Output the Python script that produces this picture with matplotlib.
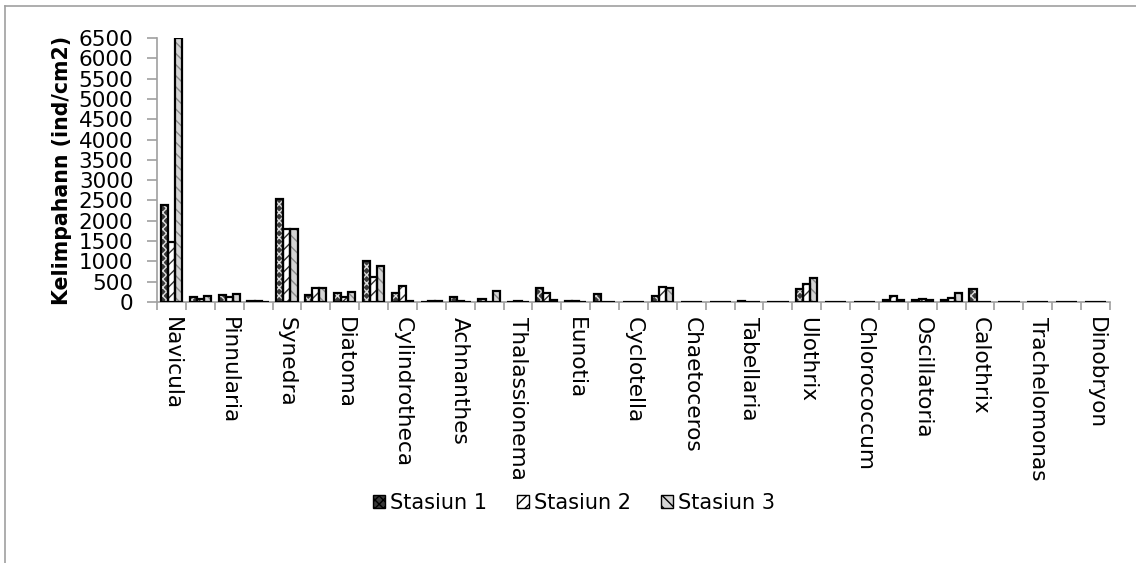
import matplotlib
matplotlib.use("Agg")
import matplotlib.pyplot as plt
import numpy as np
from matplotlib.lines import Line2D
from matplotlib.patches import Patch

plt.rcParams["font.family"] = ["DejaVu Sans"]
plt.rcParams["hatch.linewidth"] = 1.0

CATEGORIES = [
    "Navicula", "", "Pinnularia", "", "Synedra", "", "Diatoma", "", "Cylindrotheca", "",
    "Achnanthes", "", "Thalassionema", "", "Eunotia", "", "Cyclotella", "", "Chaetoceros", "",
    "Tabellaria", "", "Ulothrix", "", "Chlorococcum", "", "Oscillatoria", "", "Calothrix", "",
    "Trachelomonas", "", "Dinobryon",
]
STASIUN_1 = [2380, 120, 165, 20, 2525, 180, 225, 1000, 215, 10,
             130, 65, 10, 340, 20, 200, 10, 140, 10, 10,
             30, 10, 330, 10, 10, 40, 50, 40, 325, 5,
             5, 5, 5]
STASIUN_2 = [1470, 80, 130, 30, 1800, 340, 115, 610, 405, 15,
             25, 10, 15, 215, 15, 10, 10, 380, 5, 10,
             5, 10, 445, 10, 10, 140, 75, 100, 5, 5,
             5, 5, 5]
STASIUN_3 = [6500, 150, 200, 10, 1800, 350, 240, 895, 35, 25,
             10, 275, 5, 50, 10, 10, 10, 350, 5, 10,
             5, 10, 590, 10, 10, 50, 60, 225, 5, 5,
             5, 5, 5]
SERIES = ["Stasiun 1", "Stasiun 2", "Stasiun 3"]

styles = [
    dict(face="#3a3a3a", hatch="xxxx", hcolor="#e0e0e0"),
    dict(face="white", hatch="///", hcolor="#333333"),
    dict(face="#d4d4d4", hatch="\\\\\\", hcolor="#8a8a8a"),
]

fig = plt.figure(figsize=(11.36, 5.63), dpi=100)
# chart area border (only left and top edges visible in the crop)
fig.add_artist(Line2D([5 / 1136, 5 / 1136], [0, 1 - 6 / 563], transform=fig.transFigure,
                      color="#a0a0a0", linewidth=1.2))
fig.add_artist(Line2D([5 / 1136, 1], [1 - 6 / 563, 1 - 6 / 563], transform=fig.transFigure,
                      color="#a0a0a0", linewidth=1.2))

ax = fig.add_axes([157 / 1136, 1 - 302 / 563, (1110 - 157) / 1136, (302 - 38) / 563])

x = np.arange(len(CATEGORIES))
width = 0.245
for i, (vals, st) in enumerate(zip([STASIUN_1, STASIUN_2, STASIUN_3], styles)):
    pos = x + (i - 1) * width
    ax.bar(pos, vals, width, color=st["face"], hatch=st["hatch"],
           edgecolor=st["hcolor"], linewidth=0, zorder=2)
    ax.bar(pos, vals, width, fill=False, edgecolor="black", linewidth=1.6, zorder=3)

ax.set_xlim(-0.5, len(CATEGORIES) - 0.5)
ax.set_ylim(0, 6500)
ax.set_yticks(np.arange(0, 6501, 500))
ax.tick_params(axis="y", labelsize=15.5, length=7, color="#a0a0a0", width=1.2, pad=10)
ax.set_xticks(x)
ax.set_xticklabels(CATEGORIES, rotation=-90, fontsize=15.6)
ax.tick_params(axis="x", length=0, pad=11)
ax.set_xticks(np.arange(-0.5, len(CATEGORIES), 1), minor=True)
ax.tick_params(axis="x", which="minor", length=6, color="#a0a0a0", width=1.2)
for lbl in ax.get_xticklabels():
    lbl.set_verticalalignment("top")
    lbl.set_horizontalalignment("center")

for side in ["top", "right"]:
    ax.spines[side].set_visible(False)
for side in ["left", "bottom"]:
    ax.spines[side].set_color("#a0a0a0")
    ax.spines[side].set_linewidth(1.2)

ax.set_ylabel("Kelimpahann (ind/cm2)", fontsize=14.8, fontweight="bold", labelpad=5)

handles = [Patch(facecolor=st["face"], hatch=st["hatch"], edgecolor="black", linewidth=1.0)
           for st in styles]
leg = fig.legend(handles, SERIES, loc="center", bbox_to_anchor=(574 / 1136, 1 - 503 / 563),
                 ncol=3, frameon=False, fontsize=15, handlelength=0.6, handleheight=0.6,
                 handletextpad=0.25, columnspacing=1.4)
for h in leg.legend_handles:
    h.set_edgecolor("black")

fig.savefig("out.png", dpi=100)
